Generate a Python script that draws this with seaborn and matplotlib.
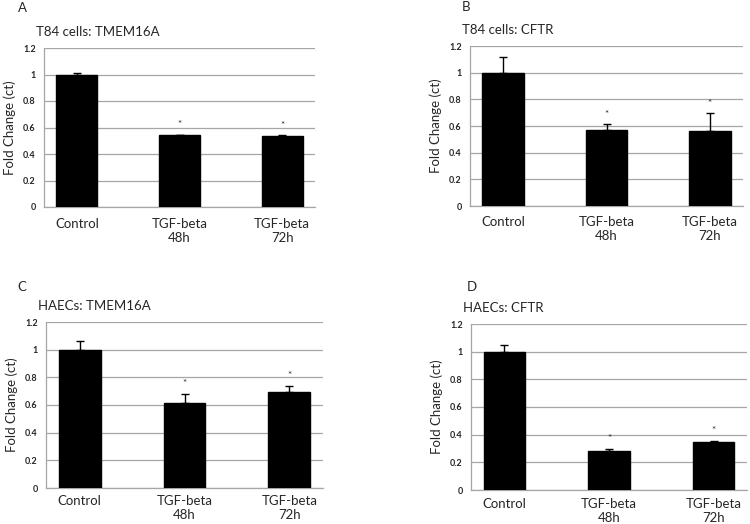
import numpy as np
import pandas as pd
import seaborn as sns
import matplotlib.pyplot as plt

groups = ["Control", "TGF-beta\n48h", "TGF-beta\n72h"]

a_vals = [1.0, 0.54, 0.535]
a_err = [0.015, 0.005, 0.005]
b_vals = [1.0, 0.57, 0.56]
b_err = [0.115, 0.045, 0.135]
c_vals = [1.0, 0.615, 0.695]
c_err = [0.06, 0.065, 0.045]
d_vals = [1.0, 0.285, 0.345]
d_err = [0.05, 0.015, 0.012]

titles = ["T84 cells: TMEM16A", "T84 cells: CFTR", "HAECs: TMEM16A", "HAECs: CFTR"]
letters = ["A", "B", "C", "D"]

sns.set_style("white")
plt.rcParams["font.family"] = ["Lato", "DejaVu Sans"]

fig = plt.figure(figsize=(7.5, 5.24), dpi=100)

# axes rectangles in pixels: left, top, right, bottom
boxes = [(44, 48, 315, 207), (470, 46, 743, 206),
         (46, 322, 323, 488), (471, 324, 747, 490)]
letter_pos = [(22, 8), (466, 7), (22, 287), (472, 287)]
xpads = [8, 7, 5, 6]

panels = [(a_vals, a_err), (b_vals, b_err), (c_vals, c_err), (d_vals, d_err)]

for i, ((vals, err), (l, t, r, b)) in enumerate(zip(panels, boxes)):
    ax = fig.add_axes([l / 750, 1 - b / 524, (r - l) / 750, (b - t) / 524])
    df = pd.DataFrame({"group": groups, "value": vals})
    sns.barplot(data=df, x="group", y="value", color="black", width=0.4,
                errorbar=None, ax=ax, zorder=3)
    for p in ax.patches:
        p.set_facecolor("black")
        p.set_edgecolor("black")
    x = np.arange(len(vals))
    ax.errorbar(x, vals, yerr=[np.zeros(len(err)), err], fmt="none",
                ecolor="black", elinewidth=1, capsize=3, capthick=1, zorder=4)
    for xi in x[1:]:
        top = vals[xi] + err[xi]
        ax.text(xi, top + 0.04, "*", ha="center", va="bottom", fontsize=7)
    ax.set_ylim(0, 1.2)
    ax.set_yticks([0, 0.2, 0.4, 0.6, 0.8, 1.0, 1.2])
    ax.set_yticklabels(["0", "0.2", "0.4", "0.6", "0.8", "1", "1.2"],
                       fontsize=6.5, fontweight="bold")
    ax.yaxis.grid(True, color="#a6a6a6", linewidth=0.9)
    ax.set_axisbelow(True)
    ax.tick_params(axis="both", length=0, pad=6)
    ax.tick_params(axis="x", labelsize=9.5, pad=xpads[i])
    for s in ["top", "right"]:
        ax.spines[s].set_visible(False)
    for s in ["left", "bottom"]:
        ax.spines[s].set_color("#a6a6a6")
        ax.spines[s].set_linewidth(0.9)
    ax.set_xlabel("")
    ax.set_ylabel("Fold Change (ct)", fontsize=9.5, labelpad=5)
    ax.set_title(titles[i], loc="left", fontsize=9.5, x=-0.03, pad=9)
    lx, ly = letter_pos[i]
    fig.text(lx / 750, 1 - ly / 524, letters[i], fontsize=9.5,
             ha="center", va="center")

fig.savefig("out.png", dpi=100)
